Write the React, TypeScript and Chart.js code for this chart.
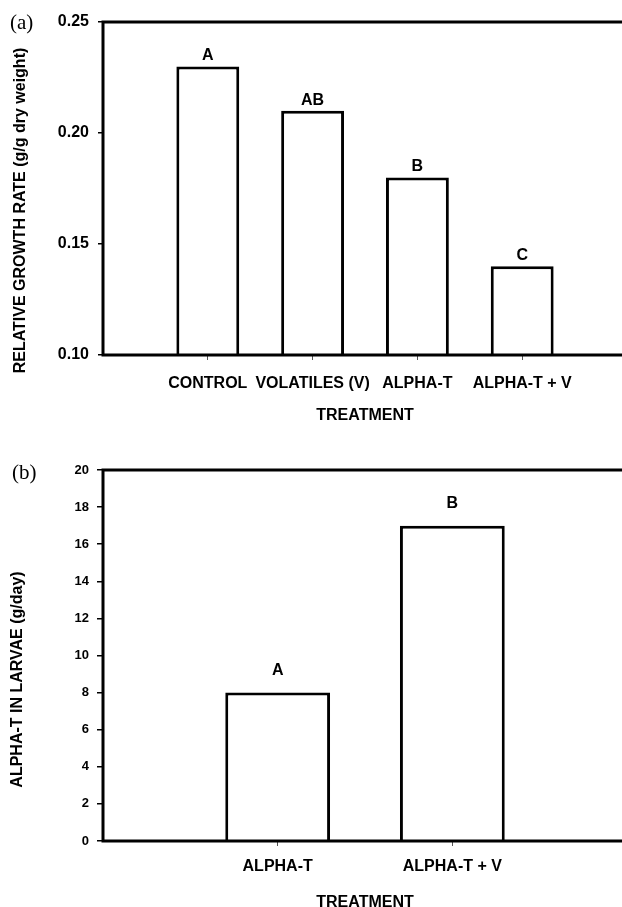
import React, { useEffect, useRef } from "react";
import { Chart, registerables } from "chart.js";

Chart.register(...registerables);

// ---------- Panel (a) data ----------
const categoriesA = ["", "CONTROL", "VOLATILES (V)", "ALPHA-T", "ALPHA-T + V", ""];
const valuesA = [null, 0.23, 0.21, 0.18, 0.14, null];
const lettersA = ["", "A", "AB", "B", "C", ""];
const yTicksA = [0.1, 0.15, 0.2, 0.25];
const yTitleA = "RELATIVE GROWTH RATE (g/g dry weight)";

// ---------- Panel (b) data ----------
const categoriesB = ["", "ALPHA-T", "ALPHA-T + V", ""];
const valuesB = [null, 8, 17, null];
const lettersB = ["", "A", "B", ""];
const yTicksB = [0, 2, 4, 6, 8, 10, 12, 14, 16, 18, 20];
const yTitleB = "ALPHA-T IN LARVAE (g/day)";

const xTitle = "TREATMENT";

const SANS = "'Liberation Sans', Arial, Helvetica, sans-serif";
const SERIF = "'Liberation Serif', 'Times New Roman', serif";

const annotate = {
  id: "annotate",
  afterDatasetsDraw(chart: any, _args: any, opts: any) {
    const { ctx, chartArea: ca } = chart;
    ctx.save();
    // frame: left, top, bottom
    ctx.strokeStyle = "#000";
    ctx.lineWidth = 3;
    ctx.lineCap = "square";
    ctx.beginPath();
    ctx.moveTo(ca.right + 20, ca.top);
    ctx.lineTo(ca.left, ca.top);
    ctx.lineTo(ca.left, ca.bottom);
    ctx.lineTo(ca.right + 20, ca.bottom);
    ctx.stroke();

    // significance letters
    const meta = chart.getDatasetMeta(0);
    ctx.fillStyle = "#000";
    ctx.font = `bold 16px ${SANS}`;
    ctx.textAlign = "center";
    ctx.textBaseline = "alphabetic";
    meta.data.forEach((el: any, i: number) => {
      const l = opts.letters[i];
      if (!l) return;
      ctx.fillText(l, el.x, el.y - opts.gap);
    });

    // panel label
    ctx.font = `21px ${SERIF}`;
    ctx.textAlign = "left";
    ctx.fillText(opts.panel, opts.panelX, opts.panelY);

    // y title
    ctx.save();
    ctx.translate(opts.titleX, (ca.top + ca.bottom) / 2 + opts.titleShift);
    ctx.rotate(-Math.PI / 2);
    ctx.font = `bold 16px ${SANS}`;
    ctx.textAlign = "center";
    ctx.textBaseline = "middle";
    ctx.fillText(opts.yTitle, 0, 0);
    ctx.restore();

    ctx.restore();
  },
};

type Spec = {
  labels: string[];
  values: (number | null)[];
  letters: string[];
  yTicks: number[];
  yMin: number;
  yMax: number;
  decimals: number;
  yTitle: string;
  panel: string;
  padTop: number;
  xH: number;
  xLabelPad: number;
  xTitlePadBottom: number;
  yTickFont: number;
  yTickLen: number;
  yTickPad: number;
  gap: number;
  titleX: number;
  titleShift: number;
  panelX: number;
  panelY: number;
};

function makeConfig(s: Spec): any {
  return {
    type: "bar",
    data: {
      labels: s.labels,
      datasets: [
        {
          data: s.values,
          backgroundColor: "#ffffff",
          borderColor: "#000000",
          borderWidth: 3,
          borderSkipped: "bottom",
          barPercentage: 0.6,
          categoryPercentage: 1,
        },
      ],
    },
    options: {
      responsive: false,
      animation: false,
      devicePixelRatio: 1,
      layout: { padding: { top: s.padTop, right: 0, bottom: 0, left: 0 } },
      plugins: {
        legend: { display: false },
        tooltip: { enabled: false },
        annotate: {
          letters: s.letters,
          gap: s.gap,
          yTitle: s.yTitle,
          titleX: s.titleX,
          titleShift: s.titleShift,
          panel: s.panel,
          panelX: s.panelX,
          panelY: s.panelY,
        },
      },
      scales: {
        x: {
          type: "category",
          offset: false,
          grid: {
            display: true,
            offset: false,
            drawOnChartArea: false,
            drawTicks: true,
            tickLength: 5,
            lineWidth: 1,
            color: (c: any) => (c.index === 0 ? "rgba(0,0,0,0)" : "#555"),
          },
          border: { display: false },
          ticks: {
            color: "#000",
            font: { family: SANS, size: 16, weight: "bold" },
            padding: s.xLabelPad,
            maxRotation: 0,
            minRotation: 0,
            autoSkip: false,
          },
          title: {
            display: true,
            text: xTitle,
            color: "#000",
            font: { family: SANS, size: 16, weight: "bold" },
            padding: { top: 0, bottom: s.xTitlePadBottom },
          },
          afterFit: (scale: any) => {
            scale.height = s.xH;
          },
        },
        y: {
          type: "linear",
          min: s.yMin,
          max: s.yMax,
          grid: {
            display: true,
            drawOnChartArea: false,
            drawTicks: true,
            tickLength: s.yTickLen,
            lineWidth: 1.5,
            color: "#000",
          },
          border: { display: false },
          ticks: {
            color: "#000",
            font: { family: SANS, size: s.yTickFont, weight: "bold" },
            padding: s.yTickPad,
            callback: (v: any) => Number(v).toFixed(s.decimals),
          },
          afterBuildTicks: (scale: any) => {
            scale.ticks = s.yTicks.map((v) => ({ value: v }));
          },
          afterFit: (scale: any) => {
            scale.width = 103;
          },
        },
      },
    },
    plugins: [annotate],
  };
}

function Panel({ spec, top, width, height }: { spec: Spec; top: number; width: number; height: number }) {
  const ref = useRef<HTMLCanvasElement | null>(null);
  useEffect(() => {
    if (!ref.current) return;
    const chart = new Chart(ref.current, makeConfig(spec));
    return () => chart.destroy();
  }, []);
  return (
    <canvas
      ref={ref}
      width={width}
      height={height}
      style={{ position: "absolute", left: 0, top, width, height, display: "block" }}
    />
  );
}

const specA: Spec = {
  labels: categoriesA,
  values: valuesA,
  letters: lettersA,
  yTicks: yTicksA,
  yMin: 0.1,
  yMax: 0.25,
  decimals: 2,
  yTitle: yTitleA,
  panel: "(a)",
  padTop: 22,
  xH: 75,
  xLabelPad: 14,
  xTitlePadBottom: 5,
  yTickFont: 16,
  yTickLen: 5,
  yTickPad: 9,
  gap: 6,
  titleX: 21,
  titleShift: 22,
  panelX: 10,
  panelY: 29,
};

const specB: Spec = {
  labels: categoriesB,
  values: valuesB,
  letters: lettersB,
  yTicks: yTicksB,
  yMin: 0,
  yMax: 20,
  decimals: 0,
  yTitle: yTitleB,
  panel: "(b)",
  padTop: 30,
  xH: 79,
  xLabelPad: 11,
  xTitlePadBottom: 8,
  yTickFont: 13,
  yTickLen: 6,
  yTickPad: 8,
  gap: 18,
  titleX: 18,
  titleShift: 24,
  panelX: 12,
  panelY: 39,
};

export default function App() {
  return (
    <div
      style={{
        position: "fixed",
        left: 0,
        top: 0,
        width: 622,
        height: 907,
        overflow: "hidden",
        background: "#fff",
      }}
    >
      <Panel spec={specA} top={0} width={641} height={430} />
      <Panel spec={specB} top={440} width={638} height={480} />
    </div>
  );
}
